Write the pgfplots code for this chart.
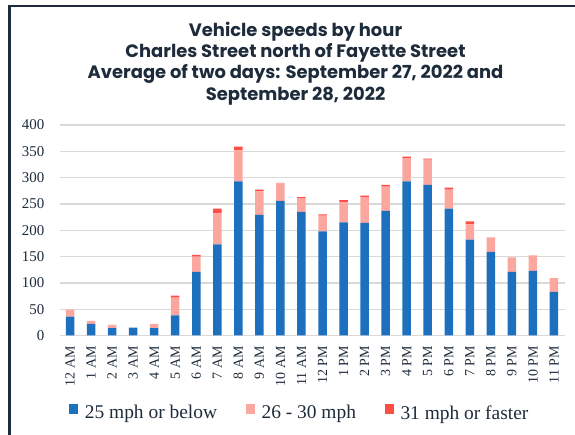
\documentclass[border=0pt]{standalone}
\usepackage{pgfplots}
\pgfplotsset{compat=1.18}
\usepackage{fontspec}
\setmainfont{Liberation Serif}
\newfontfamily\titlefont{Poppins}
\definecolor{navy}{HTML}{1D2B3B}
\definecolor{bblue}{HTML}{1C70BD}
\definecolor{bpink}{HTML}{FBA7A0}
\definecolor{bred}{HTML}{FF4C45}
\definecolor{gridc}{HTML}{D9D9D9}
\begin{document}
\begin{tikzpicture}[x=1bp,y=1bp]
\path[use as bounding box] (0,0) rectangle (575,435);
\draw[navy, line width=2.5bp] (9.5,0) -- (9.5,428.8) -- (575,428.8);
\begin{scope}[every node/.style={anchor=base, text=navy, font=\titlefont\bfseries\fontsize{18}{20}\selectfont}]
\node at (295.5,398.3) {Vehicle speeds by hour};
\node at (295.5,377.3) {Charles Street north of Fayette Street};
\node at (295.5,356.5) {Average of two days: September 27, 2022 and};
\node at (295.5,334.5) {September 28, 2022};
\end{scope}
\begin{axis}[
  at={(59.5bp,99.5bp)}, anchor=south west, scale only axis,
  width=505bp, height=210.5bp,
  ybar stacked, bar width=8.5bp,
  xmin=-0.5, xmax=23.5, ymin=0, ymax=400,
  xtick={0,...,23},
  xticklabels={12 AM,1 AM,2 AM,3 AM,4 AM,5 AM,6 AM,7 AM,8 AM,9 AM,10 AM,11 AM,12 PM,1 PM,2 PM,3 PM,4 PM,5 PM,6 PM,7 PM,8 PM,9 PM,10 PM,11 PM},
  ytick={0,50,...,400},
  axis line style={draw=none},
  major tick length=0pt,
  tick style={draw=none},
  ymajorgrids,
  grid style={draw=gridc, line width=1.3bp},
  /pgf/number format/assume math mode=true,
  yticklabel style={anchor=east, inner sep=0pt, text=navy, font=\fontsize{15}{15}\selectfont},
  yticklabel shift=15bp,
  xticklabel style={rotate=90, anchor=east, inner sep=0pt, text=navy, font=\fontsize{14}{14}\selectfont},
  xticklabel shift=10.5bp,
  legend columns=3,
  legend style={at={(0.474,-0.366)}, anchor=center, draw=none, fill=none,
    font=\fontsize{19.5}{19.5}\selectfont, text=navy,
    nodes={inner sep=0pt},
    /tikz/every odd column/.append style={column sep=6.5bp},
    /tikz/every even column/.append style={column sep=29bp}},
  legend image code/.code={\fill[#1, draw=none] (0bp,-1bp) rectangle (9bp,8.5bp);},
]
\addplot[fill=bblue, draw=none] coordinates {
(0,36) (1,22) (2,14) (3,15) (4,14) (5,38) (6,121) (7,173) (8,293) (9,229) (10,256) (11,235)
(12,198) (13,215) (14,214) (15,237) (16,293) (17,286) (18,241) (19,182) (20,159) (21,121) (22,123) (23,83)};
\addplot[fill=bpink, draw=none] coordinates {
(0,13) (1,6) (2,5) (3,0) (4,8) (5,34) (6,29) (7,59) (8,59) (9,45) (10,33) (11,26)
(12,30) (13,38) (14,49) (15,46) (16,44) (17,48) (18,36) (19,29) (20,26) (21,26) (22,28) (23,26)};
\addplot[fill=bred, draw=none] coordinates {
(0,0) (1,0) (2,1) (3,0) (4,0) (5,4) (6,3) (7,9) (8,7) (9,3) (10,1) (11,2)
(12,2) (13,4) (14,3) (15,3) (16,3) (17,2) (18,4) (19,6) (20,1) (21,1) (22,1) (23,0)};
\legend{25 mph or below, 26 - 30 mph, 31 mph or faster}
\end{axis}
\end{tikzpicture}
\end{document}
